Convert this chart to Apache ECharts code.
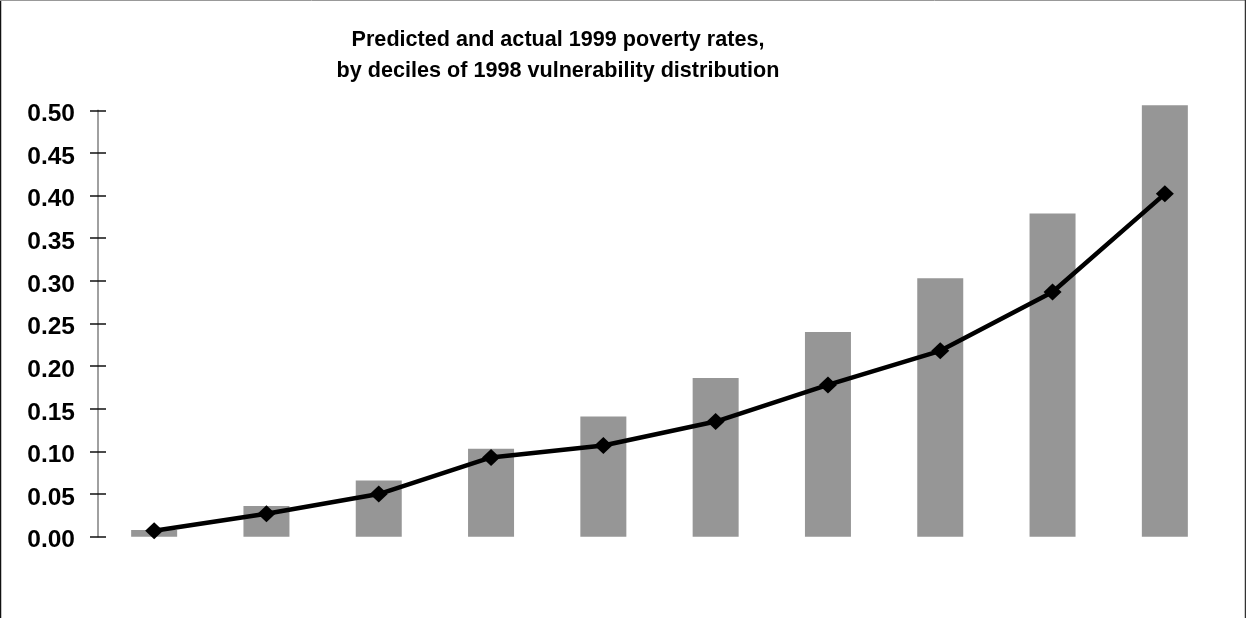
<!DOCTYPE html>
<html>
<head>
<meta charset="utf-8">
<script src="https://cdn.jsdelivr.net/npm/echarts@6/dist/echarts.min.js"></script>
<style>
  html, body { margin: 0; padding: 0; background: #fff; }
  #chart { width: 1246px; height: 618px; }
</style>
</head>
<body>
<div id="chart"></div>
<script>
// Deciles of the 1998 vulnerability distribution
const deciles = ['1', '2', '3', '4', '5', '6', '7', '8', '9', '10'];
// Actual 1999 poverty rate per decile (bars)
const actualRates = [0.008, 0.036, 0.066, 0.103, 0.141, 0.186, 0.240, 0.303, 0.379, 0.506];
// Predicted 1999 poverty rate per decile (line)
const predictedRates = [0.007, 0.027, 0.050, 0.093, 0.107, 0.135, 0.178, 0.218, 0.287, 0.402];

const chart = echarts.init(document.getElementById('chart'), null, { renderer: 'canvas' });

const font = '"Liberation Sans", Arial, sans-serif';
const yMin = 0, yMax = 0.5, yStep = 0.05;

chart.setOption({
  animation: false,
  backgroundColor: '#ffffff',
  title: {
    text: 'Predicted and actual 1999 poverty rates,\nby deciles of 1998 vulnerability distribution',
    left: 558,
    top: 25,
    padding: 0,
    textAlign: 'center',
    textStyle: {
      fontFamily: font,
      fontWeight: 'bold',
      fontSize: 21.6,
      lineHeight: 31,
      color: '#000'
    }
  },
  grid: { left: 98, right: 25, top: 110.3, bottom: 81.3, containLabel: false },
  xAxis: {
    type: 'category',
    data: deciles,
    boundaryGap: true,
    axisLine: { show: false },
    axisTick: { show: false },
    axisLabel: { show: false },
    splitLine: { show: false }
  },
  yAxis: [
    {
      type: 'value',
      min: yMin, max: yMax, interval: yStep,
      axisLine: { show: true, lineStyle: { color: '#808080', width: 1.5 } },
      axisTick: { show: true, length: 8, lineStyle: { color: '#111', width: 1.5 } },
      axisLabel: {
        margin: 23,
        formatter: v => '{t|' + v.toFixed(2) + '}',
        rich: {
          t: {
            fontFamily: font,
            fontWeight: 'bold',
            fontSize: 24.5,
            color: '#000',
            padding: [8, 0, 0, 0]
          }
        }
      },
      splitLine: { show: false }
    },
    {
      // inner half of the cross tick marks
      type: 'value',
      position: 'left',
      min: yMin, max: yMax, interval: yStep,
      axisLine: { show: false },
      axisTick: { show: true, inside: true, length: 8, lineStyle: { color: '#111', width: 1.5 } },
      axisLabel: { show: false },
      splitLine: { show: false }
    }
  ],
  series: [
    {
      name: 'Actual',
      type: 'bar',
      data: actualRates,
      barWidth: 46,
      clip: false,
      itemStyle: { color: '#969696' },
      z: 1
    },
    {
      name: 'Predicted',
      type: 'line',
      data: predictedRates,
      symbol: 'diamond',
      symbolSize: [18, 17],
      showSymbol: true,
      lineStyle: { color: '#000', width: 4.5 },
      itemStyle: { color: '#000' },
      z: 3
    }
  ],
  graphic: [
    { type: 'line', shape: { x1: 0.5, y1: 0, x2: 0.5, y2: 618 }, style: { stroke: '#111', lineWidth: 1.5 }, silent: true },
    { type: 'line', shape: { x1: 0, y1: 0.5, x2: 1246, y2: 0.5 }, style: { stroke: '#999', lineWidth: 1 }, silent: true },
    { type: 'line', shape: { x1: 1245.5, y1: 0, x2: 1245.5, y2: 618 }, style: { stroke: '#333', lineWidth: 1.5 }, silent: true }
  ]
});
</script>
</body>
</html>
